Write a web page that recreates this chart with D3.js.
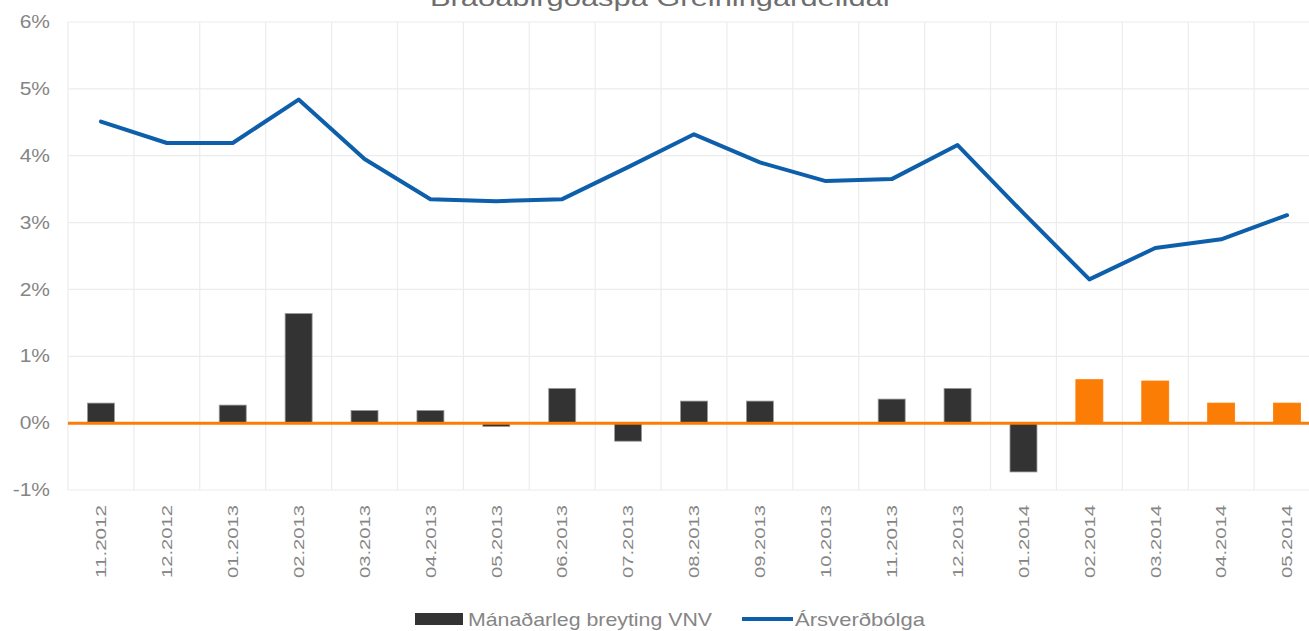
<!DOCTYPE html>
<html>
<head>
<meta charset="utf-8">
<script src="https://cdn.jsdelivr.net/npm/d3@7"></script>
<style>
  body { margin: 0; background: #fff; }
  svg { display: block; font-family: "Liberation Sans", Arial, sans-serif; }
</style>
</head>
<body>
<div id="chart"></div>
<script>
// Months on the x axis
const months = ["11.2012", "12.2012", "01.2013", "02.2013", "03.2013", "04.2013", "05.2013",
  "06.2013", "07.2013", "08.2013", "09.2013", "10.2013", "11.2013", "12.2013",
  "01.2014", "02.2014", "03.2014", "04.2014", "05.2014"];

// Monthly change in CPI (%)
const monthlyChange = [0.30, 0.00, 0.27, 1.64, 0.19, 0.19, -0.05, 0.52, -0.27, 0.33,
  0.33, 0.00, 0.36, 0.52, -0.73, 0.65, 0.63, 0.30, 0.30];

// which months are forecasts (orange bars)
const isForecast = [false, false, false, false, false, false, false, false, false, false,
  false, false, false, false, false, true, true, true, true];

// Annual inflation (%)
const annualInflation = [4.51, 4.19, 4.19, 4.84, 3.95, 3.35, 3.32, 3.35, 3.83, 4.32,
  3.90, 3.62, 3.65, 4.16, 3.14, 2.15, 2.62, 2.75, 3.11];

const yTicks = [-1, 0, 1, 2, 3, 4, 5, 6];

const W = 1309, H = 631;
const margin = { top: 22, right: -11, bottom: 141, left: 68 };
const width = W - margin.left - margin.right,
  height = H - margin.top - margin.bottom;

const textGrey = "#858585";

const svg = d3.select("#chart").append("svg")
  .attr("width", W)
  .attr("height", H);

const g = svg.append("g")
  .attr("transform", "translate(" + margin.left + "," + margin.top + ")");

const xScale = d3.scaleBand().domain(months).range([0, width]).padding(0);
const yScale = d3.scaleLinear().domain([-1, 6]).range([height, 0]);

// horizontal grid
g.selectAll(".hgrid")
  .data(yTicks)
  .enter().append("line")
  .attr("x1", 0).attr("x2", width)
  .attr("y1", d => yScale(d)).attr("y2", d => yScale(d))
  .attr("stroke", "#ececec").attr("stroke-width", 1.2);

// vertical grid at band edges
g.selectAll(".vgrid")
  .data(months)
  .enter().append("line")
  .attr("x1", d => xScale(d)).attr("x2", d => xScale(d))
  .attr("y1", 0).attr("y2", height)
  .attr("stroke", "#ececec").attr("stroke-width", 1.2);

// y labels (a bit stretched, like the original)
g.selectAll(".ylab")
  .data(yTicks)
  .enter().append("text")
  .attr("transform", d => "translate(-18," + yScale(d) + ") scale(1.2,1)")
  .attr("dy", "0.35em")
  .attr("text-anchor", "end")
  .attr("fill", textGrey)
  .style("font-size", "17.5px")
  .text(d => d + "%");

// x labels, rotated
g.selectAll(".xlab")
  .data(months)
  .enter().append("text")
  .attr("transform", d => "translate(" + (xScale(d) + xScale.bandwidth() / 2) + "," + (height + 15) + ") rotate(-90)")
  .attr("text-anchor", "end")
  .attr("dy", "0.35em")
  .attr("fill", textGrey)
  .style("font-size", "15px")
  .attr("textLength", 73)
  .attr("lengthAdjust", "spacingAndGlyphs")
  .text(d => d);

// bars
const barW = 27;
g.selectAll(".bar")
  .data(months)
  .enter().append("rect")
  .attr("class", "bar")
  .attr("x", d => xScale(d) + xScale.bandwidth() / 2 - barW / 2)
  .attr("y", (d, i) => yScale(Math.max(0, monthlyChange[i])))
  .attr("width", barW)
  .attr("height", (d, i) => Math.abs(yScale(monthlyChange[i]) - yScale(0)))
  .attr("fill", (d, i) => isForecast[i] ? "#fb7d05" : "#333333")
  .attr("stroke", (d, i) => isForecast[i] ? "#fb7d05" : "#9a9a9a")
  .attr("stroke-width", 0.8);

// zero line (orange)
g.append("line")
  .attr("x1", 0).attr("x2", width)
  .attr("y1", yScale(0)).attr("y2", yScale(0))
  .attr("stroke", "#fb7d05").attr("stroke-width", 3);

// annual inflation line
const line = d3.line()
  .x((d, i) => xScale(months[i]) + xScale.bandwidth() / 2)
  .y(d => yScale(d));

g.append("path")
  .datum(annualInflation)
  .attr("d", line)
  .attr("fill", "none")
  .attr("stroke", "#0e5fab")
  .attr("stroke-width", 4)
  .attr("stroke-linejoin", "round")
  .attr("stroke-linecap", "round");

// title (clipped at top, as in the original)
svg.append("text")
  .attr("x", 430)
  .attr("y", 6)
  .attr("fill", "#6e6e6e")
  .style("font-size", "24px")
  .attr("textLength", 463)
  .attr("lengthAdjust", "spacingAndGlyphs")
  .text("Bráðabirgðaspá Greiningardeildar");

// legend
const legend = svg.append("g").attr("transform", "translate(0,619)");
legend.append("rect")
  .attr("x", 415).attr("y", -6).attr("width", 48).attr("height", 12)
  .attr("fill", "#333333");
legend.append("text")
  .attr("x", 468).attr("y", 0).attr("dy", "0.35em")
  .attr("fill", textGrey).style("font-size", "19px")
  .attr("textLength", 244)
  .attr("lengthAdjust", "spacingAndGlyphs")
  .text("Mánaðarleg breyting VNV");
legend.append("line")
  .attr("x1", 742).attr("x2", 793).attr("y1", 0).attr("y2", 0)
  .attr("stroke", "#0e5fab").attr("stroke-width", 4);
legend.append("text")
  .attr("x", 795).attr("y", 0).attr("dy", "0.35em")
  .attr("fill", textGrey).style("font-size", "19px")
  .attr("textLength", 130)
  .attr("lengthAdjust", "spacingAndGlyphs")
  .text("Ársverðbólga");
</script>
</body>
</html>
